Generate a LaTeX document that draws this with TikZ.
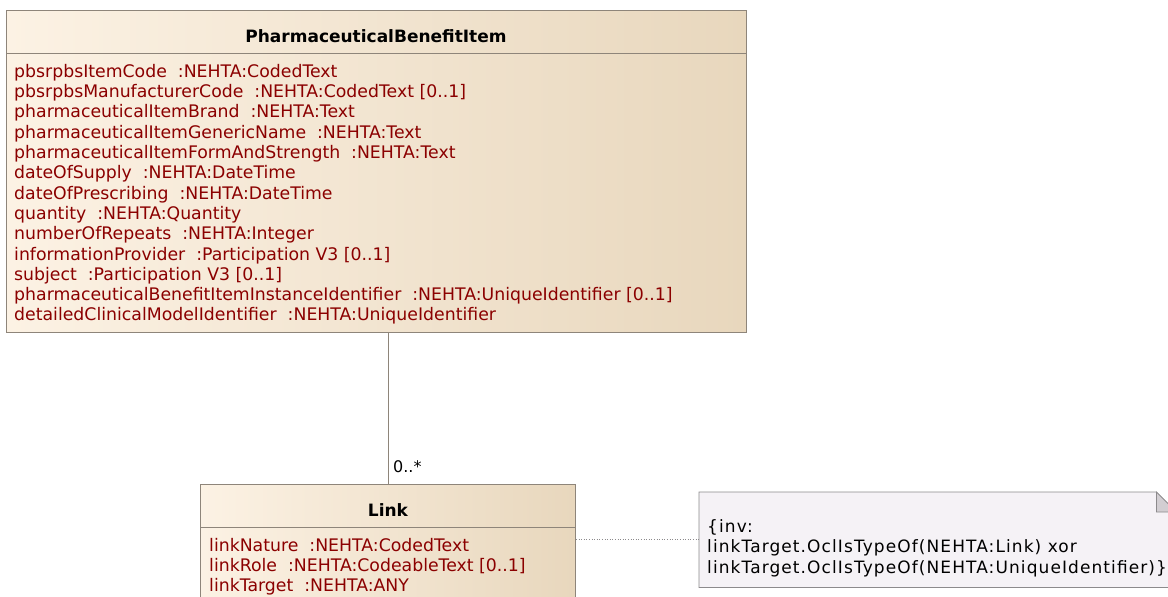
\documentclass[tikz,border=0pt]{standalone}
\usepackage{fontspec}
\setmainfont{DejaVu Sans}
\usetikzlibrary{positioning,calc}
\definecolor{umlborder}{HTML}{8E857A}
\definecolor{umlleft}{HTML}{FCF2E4}
\definecolor{umlright}{HTML}{E8D7BD}
\definecolor{umlattr}{HTML}{8B0000}
\definecolor{notefill}{HTML}{F5F2F6}
\definecolor{notefold}{HTML}{D2CED2}
\definecolor{noteborder}{HTML}{8C8A8C}
\tikzset{
  classbox/.style   = {rectangle, draw=umlborder, line width=0.9pt, left color=umlleft,
                       right color=umlright, anchor=north west, inner sep=0pt},
  classtitle/.style = {font=\fontsize{17}{20}\selectfont\bfseries, inner sep=0pt},
  classline/.style  = {draw=umlborder, line width=0.9pt},
  attrlist/.style   = {anchor=north west, align=left, inner sep=0pt,
                       font=\fontsize{17.3}{20.3}\selectfont\color{umlattr}},
  assoc/.style      = {draw=umlborder, line width=0.8pt},
  mult/.style       = {anchor=west, inner sep=0pt, font=\fontsize{16}{18}\selectfont},
  notebox/.style    = {rectangle, anchor=north west, inner sep=0pt},
  notetext/.style   = {anchor=north west, align=left, inner sep=0pt,
                       font=\fontsize{17}{20.5}\selectfont\addfontfeatures{LetterSpace=6.4}},
  anchorline/.style = {draw=noteborder, line width=0.6pt, dotted},
}
\begin{document}
\begin{tikzpicture}[x=1pt, y=-1pt]
\useasboundingbox (0,0) rectangle (1168,597);
\clip (0,0) rectangle (1168,597);

% PharmaceuticalBenefitItem class
\node[classbox, minimum width=740pt, minimum height=322pt] (pbi) at (6,10) {};
\node[classtitle] (pbititle) at (376,36) {PharmaceuticalBenefitItem};
\draw[classline] (pbi.west |- 0,53) -- (pbi.east |- 0,53);
\node[attrlist] (pbiattr) at (14,64) {pbsrpbsItemCode\ \ :NEHTA:CodedText\\
  pbsrpbsManufacturerCode\ \ :NEHTA:CodedText [0..1]\\
  pharmaceuticalItemBrand\ \ :NEHTA:Text\\
  pharmaceuticalItemGenericName\ \ :NEHTA:Text\\
  pharmaceuticalItemFormAndStrength\ \ :NEHTA:Text\\
  dateOfSupply\ \ :NEHTA:DateTime\\
  dateOfPrescribing\ \ :NEHTA:DateTime\\
  quantity\ \ :NEHTA:Quantity\\
  numberOfRepeats\ \ :NEHTA:Integer\\
  informationProvider\ \ :Participation V3 [0..1]\\
  subject\ \ :Participation V3 [0..1]\\
  pharmaceuticalBenefitItemInstanceIdentifier\ \ :NEHTA:UniqueIdentifier [0..1]\\
  detailedClinicalModelIdentifier\ \ :NEHTA:UniqueIdentifier};

% Link class
\node[classbox, minimum width=375pt, minimum height=120pt] (link) at (200,484) {};
\node[classtitle] (linktitle) at (388,510) {Link};
\draw[classline] (link.west |- 0,527) -- (link.east |- 0,527);
\node[attrlist] (linkattr) at (209,538) {linkNature\ \ :NEHTA:CodedText\\
  linkRole\ \ :NEHTA:CodeableText [0..1]\\
  linkTarget\ \ :NEHTA:ANY};

% association
\draw[assoc] (pbi.south -| 388,0) -- (link.north -| 388,0);
\node[mult] (linkmult) at (393,467) {0..*};

% constraint note
\node[notebox, minimum width=477pt, minimum height=95pt] (note) at (699,492) {};
\draw[draw=noteborder, fill=notefill, line width=0.8pt] (note.south west) -- (note.north west)
  -- ([xshift=-20pt]note.north east) -- ([yshift=-20pt]note.north east)
  -- (note.south east) -- cycle;
\draw[draw=noteborder, fill=notefold, line width=0.8pt] ([xshift=-20pt]note.north east)
  -- ([xshift=-20pt,yshift=-20pt]note.north east) -- ([yshift=-20pt]note.north east) -- cycle;
\node[notetext] (notebody) at (707,519) {\{inv:\\
  linkTarget.OclIsTypeOf(NEHTA:Link) xor\\
  linkTarget.OclIsTypeOf(NEHTA:UniqueIdentifier)\}};
\draw[anchorline] (link.east |- 0,539) -- (note.west |- 0,539);
\end{tikzpicture}
\end{document}
